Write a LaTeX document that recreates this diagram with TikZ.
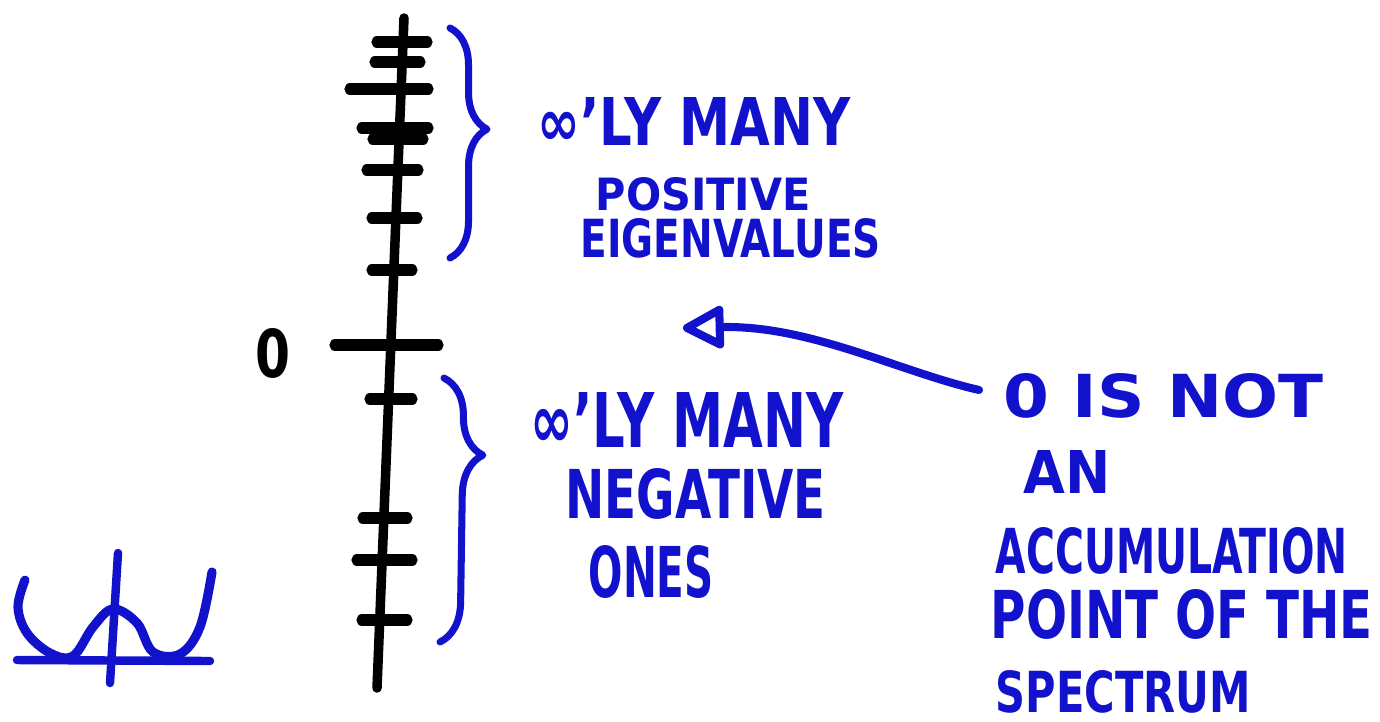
\documentclass[tikz,border=0pt]{standalone}
\usepackage{fontspec}
\setmainfont{DejaVu Sans}
\usepackage{graphicx}
\usetikzlibrary{arrows.meta,decorations.pathreplacing,positioning}
\definecolor{ink}{RGB}{18,18,205}
\newlength\px
\setlength\px{0.01cm}
% lettering squeezed into a w x h box (pixels)
\newcommand{\hw}[3]{\resizebox{#1\px}{#2\px}{\bfseries #3}}
\tikzset{
  pen/.style={ink, line width=2pt, line cap=round, line join=round},
  tickmark/.style={black, line width=3.2pt, line cap=round},
  lettering/.style={ink, inner sep=0pt, anchor=base west},
}

\begin{document}
\begin{tikzpicture}[x=0.01cm, y=-0.01cm, >=Stealth]
\useasboundingbox (0,0) rectangle (1380,721);
% the spectrum
\coordinate (axtop) at (404,18);
\coordinate (axbot) at (377,688);
\draw[black, line width=2.7pt, line cap=round] (axtop) -- (axbot);
\foreach \y/\l/\r in {42/377/427, 62/375/420, 89/350/428, 128/362/428,
    139/373/423, 170/367/418, 218/372/417, 270/372/412, 345/335/438,
    399/370/412, 518/363/407, 560/357/412, 620/362/407}{
  \draw[tickmark] (\l,\y) -- (\r,\y);
}
\node[inner sep=0pt, anchor=base west] (zero) at (255,377) {\hw{35}{49}{0}};

% braces
\coordinate (postop) at (450,28);
\coordinate (posbot) at (450,258);
\draw[pen, decorate, decoration={brace, amplitude=0.37cm, aspect=0.44}] (postop) -- (posbot);
\coordinate (negtop) at (444,378);
\coordinate (negbot) at (440,642);
\draw[pen, decorate, decoration={brace, amplitude=0.4cm, aspect=0.29}] (negtop) -- (negbot);

\node[lettering] (pos1) at (537,145) {\hw{313}{48}{∞’LY MANY}};
\node[lettering] (pos2) at (595,210) {\hw{215}{33}{POSITIVE}};
\node[lettering] (pos3) at (580,257) {\hw{300}{39}{EIGENVALUES}};

\node[lettering] (neg1) at (530,447) {\hw{313}{55}{∞’LY MANY}};
\node[lettering] (neg2) at (565,518) {\hw{260}{50}{NEGATIVE}};
\node[lettering] (neg3) at (588,597) {\hw{125}{52}{ONES}};

\node[lettering] (isnot) at (1003,417) {\hw{320}{44}{0 IS NOT}};
\node[lettering] (an) at (1023,493) {\hw{87}{43}{AN}};
\node[lettering] (accum) at (995,573) {\hw{352}{46}{ACCUMULATION}};
\node[lettering] (point) at (990,638) {\hw{382}{49}{POINT OF THE}};
\node[lettering] (spec) at (995,712) {\hw{255}{42}{SPECTRUM}};

% arrow into the gap round 0
\coordinate (gap) at (683,328);
\draw[pen, line width=2.3pt, shorten <=7pt, -{Triangle[open, round, length=13pt, width=13pt]}]
  (isnot.west) .. controls (900,372) and (810,325) .. (gap);

% double well sketch
\draw[pen, line width=2.4pt] (17,660) -- (210,661);
\draw[pen, line width=2.4pt] (118,553) -- (110,683);
\draw[pen, line width=2.6pt] plot[smooth, tension=0.6] coordinates {(25,580) (18,607) (27,633)
  (50,653) (73,656) (93,627) (113,609) (137,623) (153,652) (180,654) (200,627) (212,572)};
\end{tikzpicture}
\end{document}
